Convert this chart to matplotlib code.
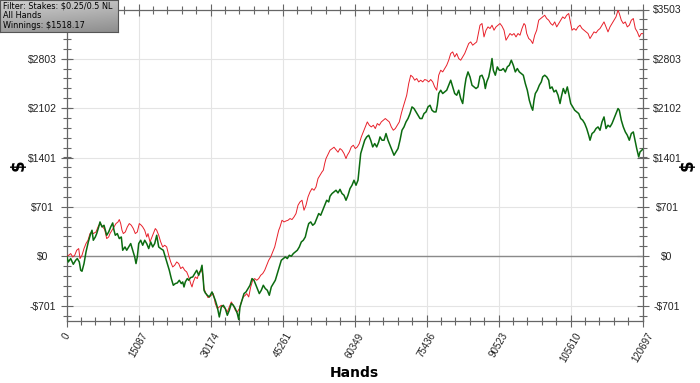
import numpy as np
import matplotlib
matplotlib.use("Agg")
import matplotlib.pyplot as plt
from matplotlib.colors import LinearSegmentedColormap
from matplotlib.ticker import FixedLocator, FixedFormatter, AutoMinorLocator

# ──────────────────────────────────────────────
# Datos (manos, dólares)
# ──────────────────────────────────────────────
net_hands = [0, 335, 838, 1383, 1886, 2221, 2640, 2934, 3206, 3625, 4044, 4526, 5029, 5302, 5574, 5993, 6287, 6706, 6978, 7397, 7816, 8382, 8801, 9220, 9639, 9912, 10184, 10603, 11022, 11441, 11735, 12217, 12573, 12992, 13411, 13830, 14249, 14522, 14794, 15088, 15507, 15926, 16345, 16764, 17183, 17602, 18021, 18440, 18860, 19279, 19698, 20243, 20662, 21081, 21500, 21919, 22338, 22757, 23176, 23595, 24014, 24308, 24580, 24853, 25272, 25565, 25984, 26403, 26822, 27241, 27660, 28079, 28352, 28624, 28771, 29043, 29462, 29881, 30447, 30720, 31139, 31558, 31977, 32396, 32816, 33235, 33654, 34073, 34492, 34911, 35330, 35749, 36043, 36315, 36734, 37153, 37572, 37991, 38410, 38829, 39248, 39667, 39940, 40359, 40778, 41197, 41616, 42035, 42454, 42873, 43293, 43712, 44131, 44550, 44969, 45388, 45807, 46226, 46645, 47064, 47483, 47902, 48321, 48741, 49160, 49579, 49998, 50417, 50711, 51130, 51549, 51968, 52387, 52806, 53225, 53644, 54063, 54483, 54902, 55174, 55593, 56012, 56431, 56850, 57269, 57688, 58107, 58526, 58945, 59364, 59783, 60202, 60621, 61040, 61313, 61607, 62026, 62445, 62865, 63284, 63703, 64122, 64541, 64960, 65379, 65652, 66071, 66490, 66909, 67328, 67747, 68166, 68585, 69004, 69423, 69842, 70261, 70680, 71099, 71518, 71937, 72357, 72776, 73195, 73614, 74033, 74452, 74871, 75290, 75709, 76128, 76547, 76966, 77385, 77658, 77952, 78371, 78790, 79209, 79628, 80047, 80466, 80885, 81304, 81723, 82142, 82561, 82980, 83400, 83672, 84091, 84510, 84929, 85348, 85767, 86186, 86605, 87024, 87443, 87716, 88011, 88430, 88849, 89122, 89394, 89813, 90232, 90651, 91070, 91489, 91908, 92327, 92746, 93165, 93584, 94003, 94422, 94842, 95261, 95680, 96099, 96518, 96937, 97356, 97649, 97922, 98195, 98614, 99033, 99452, 99745, 100164, 100583, 101002, 101275, 101694, 102113, 102532, 102951, 103370, 103643, 104062, 104481, 104900, 105194, 105613, 106032, 106451, 106870, 107289, 107708, 108127, 108546, 108965, 109385, 109657, 110076, 110495, 110914, 111333, 111752, 112171, 112590, 113009, 113428, 113847, 114266, 114685, 115104, 115523, 115796, 116215, 116634, 117053, 117472, 117891, 118310, 118729, 119148, 119442, 119861, 120133, 120697]
net_won = [0, -81, -33, -114, -57, -33, -81, -199, -213, -104, 61, 203, 322, 369, 227, 273, 322, 416, 487, 416, 440, 298, 345, 416, 473, 369, 298, 322, 251, 274, 85, 132, 85, 132, 180, 85, -10, -104, -10, 180, 227, 156, 227, 180, 109, 203, 132, 180, 298, 132, 109, 85, -10, -104, -199, -317, -412, -388, -379, -341, -388, -365, -436, -365, -317, -341, -302, -294, -246, -199, -270, -199, -128, -341, -483, -521, -554, -578, -507, -554, -625, -720, -862, -720, -696, -743, -838, -767, -672, -696, -743, -814, -899, -720, -625, -530, -507, -459, -412, -317, -341, -412, -459, -530, -483, -412, -459, -483, -554, -436, -388, -341, -246, -152, -57, -33, -10, -33, 14, 0, 38, 61, 85, 132, 203, 227, 274, 393, 464, 487, 440, 464, 535, 606, 582, 653, 724, 795, 771, 852, 890, 913, 937, 899, 950, 890, 866, 795, 866, 961, 1008, 1079, 1008, 1079, 1268, 1458, 1552, 1647, 1694, 1718, 1647, 1552, 1600, 1552, 1623, 1694, 1647, 1647, 1742, 1647, 1576, 1505, 1434, 1481, 1529, 1647, 1789, 1836, 1907, 1955, 2026, 2120, 2097, 2049, 2002, 1955, 1955, 2026, 2049, 2120, 2144, 2073, 2049, 2049, 2144, 2310, 2357, 2310, 2333, 2357, 2428, 2499, 2404, 2310, 2286, 2357, 2239, 2168, 2404, 2523, 2617, 2546, 2428, 2404, 2381, 2404, 2556, 2570, 2499, 2381, 2475, 2546, 2688, 2807, 2641, 2570, 2688, 2641, 2641, 2665, 2617, 2688, 2712, 2783, 2712, 2617, 2665, 2617, 2594, 2570, 2452, 2357, 2215, 2120, 2073, 2215, 2310, 2357, 2428, 2475, 2546, 2570, 2546, 2499, 2381, 2404, 2333, 2357, 2286, 2168, 2262, 2381, 2310, 2404, 2310, 2168, 2120, 2073, 2049, 2026, 1955, 1931, 1884, 1813, 1718, 1647, 1742, 1765, 1813, 1836, 1789, 1907, 1978, 1813, 1860, 1836, 1884, 1955, 2026, 2097, 2073, 1931, 1836, 1765, 1718, 1647, 1742, 1765, 1623, 1529, 1410, 1481, 1518.17]

ev_hands = [0, 419, 838, 1257, 1676, 2096, 2515, 2787, 3206, 3625, 4044, 4463, 4883, 5302, 5574, 6140, 6706, 7125, 7544, 7963, 8382, 8801, 9073, 9492, 9912, 10331, 10750, 11022, 11316, 11588, 11861, 12280, 12699, 13118, 13537, 13956, 14375, 14794, 15213, 15632, 15926, 16345, 16764, 17036, 17455, 17874, 18147, 18566, 18860, 19279, 19698, 20117, 20536, 20955, 21374, 21793, 22212, 22631, 23050, 23469, 23888, 24308, 24727, 25146, 25565, 25984, 26257, 26529, 26948, 27367, 27786, 28205, 28498, 28771, 29190, 29609, 29881, 30720, 31139, 31558, 31977, 32396, 32816, 33235, 33654, 34073, 34492, 34911, 35330, 35749, 36168, 36587, 37006, 37425, 37719, 38138, 38557, 38976, 39395, 39814, 40233, 40652, 41071, 41490, 41910, 42329, 42748, 43167, 43586, 44005, 44424, 44697, 45116, 45535, 45954, 46373, 46792, 47211, 47630, 48049, 48468, 48887, 49306, 49726, 50145, 50564, 50983, 51402, 51821, 52240, 52659, 53078, 53497, 53771, 54063, 54336, 55174, 56012, 56850, 57269, 57688, 58107, 58526, 58799, 59218, 59637, 60056, 60475, 60894, 61313, 61732, 62151, 62570, 62990, 63409, 63828, 64247, 64666, 65085, 65504, 65923, 66342, 66761, 67180, 67600, 68019, 68438, 68857, 69276, 69695, 70114, 70408, 70827, 71246, 71665, 72084, 72503, 72922, 73341, 73760, 74179, 74598, 75017, 75437, 75856, 76275, 76694, 77113, 77532, 77951, 78370, 78789, 79208, 79627, 80046, 80466, 80885, 81304, 81723, 82142, 82561, 82980, 83399, 83818, 84237, 84656, 85075, 85494, 85913, 86605, 87024, 87443, 87862, 88281, 88700, 89120, 89539, 89958, 90377, 90796, 91215, 91634, 92053, 92472, 92891, 93310, 93729, 94149, 94568, 94987, 95406, 95825, 96098, 96392, 96811, 97230, 97649, 98068, 98487, 98906, 99325, 99744, 100163, 100582, 101001, 101421, 101840, 102259, 102678, 103097, 103516, 103935, 104354, 104773, 105192, 105465, 105884, 106303, 106722, 107141, 107560, 107979, 108398, 108817, 109236, 109655, 110074, 110493, 110912, 111331, 111750, 112169, 112589, 113008, 113427, 113846, 114265, 114684, 115103, 115522, 115795, 116214, 116633, 117052, 117471, 117890, 118309, 118728, 119147, 119566, 119985, 120404, 120697]
ev_won = [0, 14, 38, -10, 14, 85, 109, -33, 14, 109, 180, 227, 322, 345, 322, 345, 440, 454, 416, 379, 251, 274, 322, 369, 416, 464, 487, 521, 464, 369, 322, 345, 416, 464, 440, 393, 322, 345, 464, 440, 416, 369, 274, 322, 203, 274, 322, 393, 369, 298, 203, 132, 156, 132, 14, -81, -152, -128, -81, -104, -175, -152, -199, -223, -294, -388, -436, -365, -294, -317, -223, -199, -246, -459, -530, -587, -578, -530, -672, -743, -720, -696, -720, -743, -791, -720, -649, -696, -767, -791, -743, -649, -578, -554, -530, -578, -436, -341, -317, -341, -317, -270, -246, -199, -128, -57, -10, 61, 132, 251, 369, 416, 511, 487, 501, 511, 535, 521, 558, 606, 724, 771, 795, 653, 724, 842, 913, 961, 937, 984, 1103, 1150, 1197, 1221, 1316, 1387, 1505, 1548, 1477, 1529, 1505, 1458, 1387, 1434, 1481, 1552, 1576, 1529, 1552, 1600, 1694, 1765, 1836, 1907, 1860, 1836, 1860, 1813, 1884, 1860, 1907, 1931, 1955, 1931, 1907, 1836, 1789, 1813, 1860, 1907, 2026, 2097, 2191, 2286, 2452, 2570, 2546, 2499, 2523, 2475, 2499, 2475, 2509, 2499, 2475, 2509, 2475, 2404, 2357, 2570, 2641, 2617, 2665, 2712, 2783, 2878, 2901, 2830, 2878, 2807, 2783, 2830, 2878, 2949, 3020, 3043, 2996, 3020, 3043, 3280, 3304, 3114, 3209, 3256, 3233, 3280, 3209, 3256, 3280, 3304, 3266, 3209, 3067, 3114, 3162, 3138, 3162, 3114, 3162, 3138, 3233, 3304, 3280, 3162, 3091, 3067, 3020, 3138, 3209, 3351, 3375, 3398, 3422, 3375, 3351, 3304, 3280, 3327, 3256, 3304, 3351, 3398, 3375, 3422, 3446, 3351, 3209, 3233, 3209, 3256, 3280, 3233, 3209, 3185, 3162, 3091, 3138, 3185, 3171, 3209, 3233, 3280, 3327, 3256, 3185, 3256, 3304, 3351, 3398, 3493, 3446, 3351, 3304, 3327, 3256, 3280, 3351, 3375, 3233, 3185, 3114, 3162, 3160]

x_ticks = [0, 15087, 30174, 45261, 60349, 75436, 90523, 105610, 120697]
y_ticks = [-701, 0, 701, 1401, 2102, 2803, 3503]
y_labels = ["-$701", "$0", "$701", "$1401", "$2102", "$2803", "$3503"]

info_lines = ["Filter: Stakes: $0.25/0.5 NL", "All Hands", "Winnings: $1518.17"]

W, H = 700, 383
fig = plt.figure(figsize=(W / 100, H / 100), dpi=100)
ax = fig.add_axes([66.7 / W, 1 - 320.7 / H, 576 / W, 311.2 / H])

ax.plot(ev_hands, ev_won, color="#e8202a", linewidth=0.7, zorder=3)
ax.plot(net_hands, net_won, color="#0b6b10", linewidth=1.1, zorder=4)
ax.axhline(0, color="#8a8a8a", linewidth=1.0, zorder=2)

ax.set_xlim(0, 120697)
ax.set_ylim(-915, 3503)

ax.xaxis.set_major_locator(FixedLocator(x_ticks))
ax.xaxis.set_major_formatter(FixedFormatter([str(v) for v in x_ticks]))
ax.yaxis.set_major_locator(FixedLocator(y_ticks))
ax.yaxis.set_major_formatter(FixedFormatter(y_labels))
ax.xaxis.set_minor_locator(AutoMinorLocator(5))
ax.yaxis.set_minor_locator(AutoMinorLocator(5))

ax.grid(True, which="major", color="#e4e4e4", linestyle="-", linewidth=0.8, zorder=1)

for s in ax.spines.values():
    s.set_color("#666666")
    s.set_linewidth(0.9)

ax.tick_params(which="both", direction="inout", colors="#666666",
               top=True, right=True, labelright=True, labelsize=7.5,
               labelcolor="#222222")
ax.tick_params(which="major", length=9, width=0.8)
ax.tick_params(which="minor", length=6, width=0.8)
ax.tick_params(axis="y", pad=13)
ax.tick_params(axis="x", pad=3, labelsize=7)
for t in ax.yaxis.get_major_ticks():
    t.label1.set_horizontalalignment("center")
    t.label2.set_horizontalalignment("center")
    t.label1.set_fontfamily("Liberation Sans")
    t.label2.set_fontfamily("Liberation Sans")
# la etiqueta izquierda de arriba queda tapada por el cuadro de filtro
ax.yaxis.get_major_ticks()[-1].label1.set_visible(False)

for lab in ax.get_xticklabels():
    lab.set_rotation(60)
    lab.set_horizontalalignment("center")
    lab.set_fontfamily("Liberation Sans")

ax.set_xlabel("Hands", fontsize=10, fontweight="bold", labelpad=1)
ax.set_ylabel("$", fontsize=12, fontweight="bold", labelpad=0)
fig.text(688 / W, 1 - (9.5 + 320.7) / 2 / H, "$", rotation=90,
         fontsize=12, fontweight="bold", ha="center", va="center")

# cuadro de información arriba a la izquierda
box = fig.add_axes([0, 1 - 32 / H, 118 / W, 32 / H], zorder=10)
grad_cmap = LinearSegmentedColormap.from_list("caja", ["#d2d2d2", "#8e8e8e"])
gx, gy = np.meshgrid(np.linspace(0, 1, 120), np.linspace(0, 1, 40))
box.imshow(0.25 * gx + 0.75 * gy, cmap=grad_cmap, vmin=0, vmax=1,
           aspect="auto", extent=[0, 1, 1, 0])
box.set_xlim(0, 1)
box.set_ylim(1, 0)
box.set_xticks([])
box.set_yticks([])
for s in box.spines.values():
    s.set_color("#555555")
    s.set_linewidth(0.8)
for i, line in enumerate(info_lines):
    box.text(0.025, 0.2 + i * 0.3, line, fontsize=5.9, va="center", ha="left",
             color="black", family="DejaVu Sans")

fig.savefig("out.png", dpi=100)
